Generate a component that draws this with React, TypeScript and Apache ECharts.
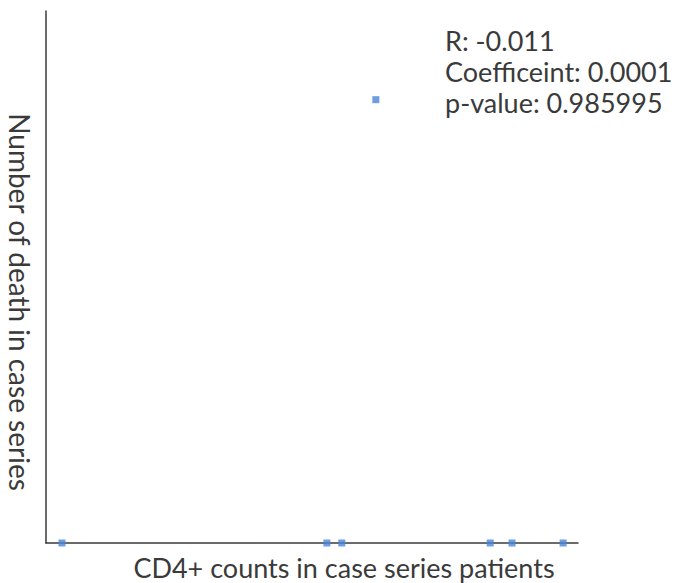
import React, { useEffect, useRef } from "react";
import * as echarts from "echarts";

const cd4Counts = [30, 528, 556, 835, 876, 972, 620];
const deaths = [0, 0, 0, 0, 0, 0, 1];
const statLines = ["R: -0.011", "Coefficeint: 0.0001", "p-value: 0.985995"];
const xTitle = "CD4+ counts in case series patients";
const yTitle = "Number of death in case series";

export default function App() {
  const ref = useRef<HTMLDivElement>(null);
  useEffect(() => {
    const chart = echarts.init(ref.current!, null, { renderer: "svg" });
    const font = "Lato, 'Open Sans', sans-serif";
    chart.setOption({
      animation: false,
      backgroundColor: "#ffffff",
      grid: { left: 46, top: 11, width: 532, height: 532, outerBoundsMode: "none" },
      xAxis: {
        type: "value",
        min: 0,
        max: 1000,
        axisLine: { show: true, lineStyle: { color: "#3a3a3a", width: 1.5 } },
        axisTick: { show: false },
        axisLabel: { show: false },
        splitLine: { show: false },
      },
      yAxis: {
        type: "value",
        min: 0,
        max: 1.2,
        axisLine: { show: true, lineStyle: { color: "#3a3a3a", width: 1.5 } },
        axisTick: { show: false },
        axisLabel: { show: false },
        splitLine: { show: false },
      },
      series: [
        {
          type: "scatter",
          symbol: "rect",
          symbolSize: 7,
          itemStyle: { color: "#4a86d8" },
          data: cd4Counts.map((x, i) => [x, deaths[i]]),
        },
      ],
      graphic: [
        {
          type: "text",
          x: 344,
          y: 567,
          style: {
            text: xTitle,
            align: "center",
            verticalAlign: "middle",
            fontFamily: font,
            fontSize: 27,
            fill: "#3a3a3a",
          },
        },
        {
          type: "text",
          x: 20,
          y: 302,
          rotation: -Math.PI / 2,
          style: {
            text: yTitle,
            align: "center",
            verticalAlign: "middle",
            fontFamily: font,
            fontSize: 28,
            fill: "#3a3a3a",
          },
        },
        ...statLines.map((t, i) => ({
          type: "text",
          x: 445,
          y: 40 + i * 31,
          style: {
            text: t,
            verticalAlign: "middle",
            fontFamily: font,
            fontSize: 27,
            fill: "#3a3a3a",
          },
        })),
      ],
    });
    return () => chart.dispose();
  }, []);
  return (
    <div
      ref={ref}
      style={{ position: "fixed", left: 0, top: 0, width: 680, height: 583 }}
    />
  );
}
